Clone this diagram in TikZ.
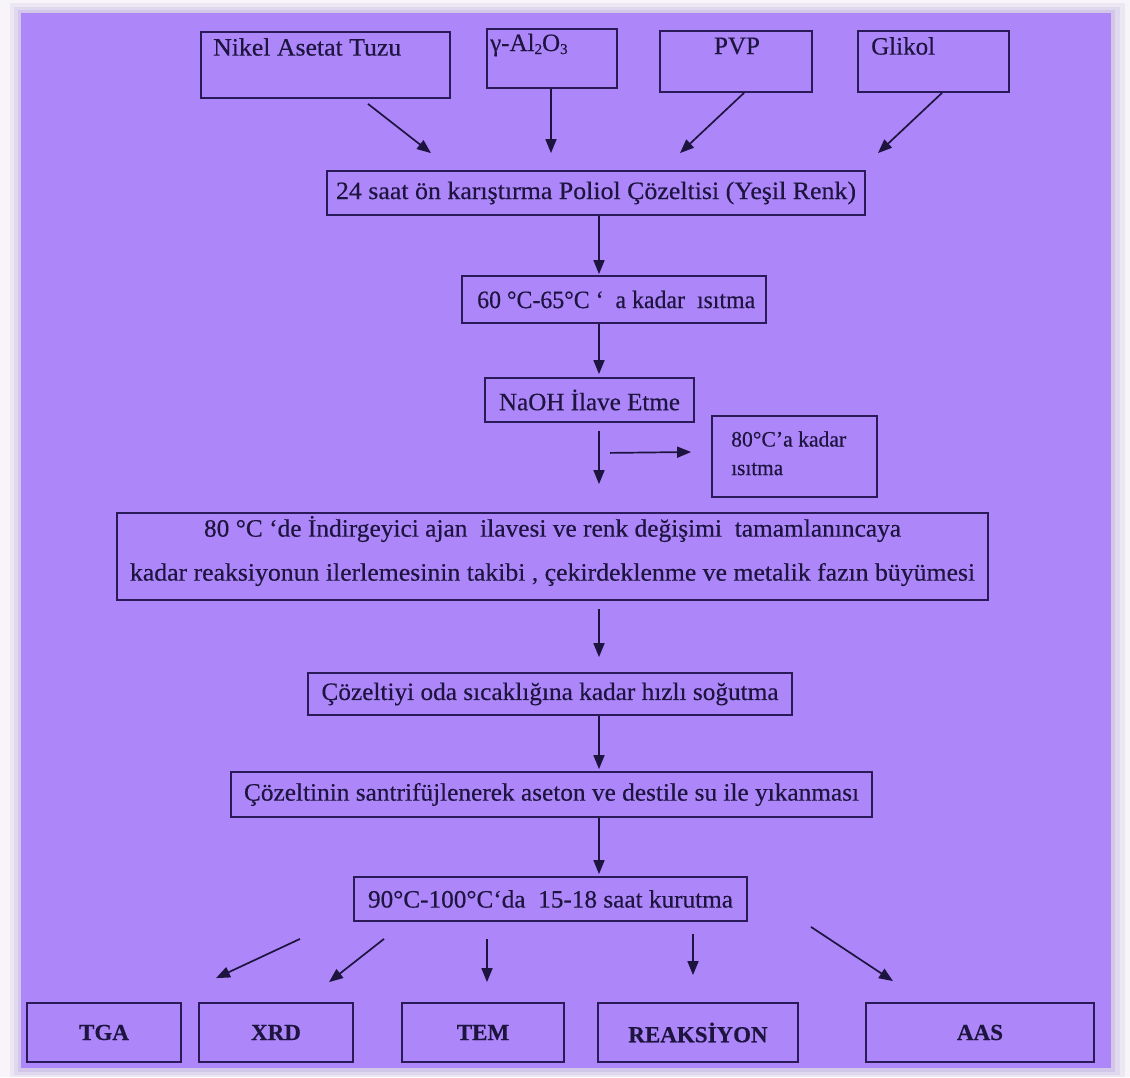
\documentclass[tikz,border=0pt]{standalone}
\usepackage{fontspec}
\setmainfont{Liberation Serif}[FakeBold=0.4]
\usetikzlibrary{arrows.meta}
\definecolor{panel}{HTML}{AD87FA}
\definecolor{edge}{HTML}{2A1A58}
\definecolor{ink}{HTML}{1E1440}
\definecolor{outer}{HTML}{F7F5F9}
\definecolor{shadeA}{HTML}{ECE7F3}
\definecolor{shadeB}{HTML}{E0D8EE}
\definecolor{shadeC}{HTML}{D3C7E9}
\newcommand\fitw[2]{\resizebox{#1pt}{\height}{#2}}
\newcommand\mysub[1]{\raisebox{-3pt}{\fontsize{15}{15}\selectfont #1}}
\begin{document}
\begin{tikzpicture}[x=1pt,y=-1pt,
  box/.style={draw=edge,line width=1.8pt,inner sep=0pt,text=ink,font=\fontsize{25}{30}\selectfont},
  bbox/.style={box,font=\fontsize{23}{28}\selectfont\bfseries},
  lab/.style={inner sep=0pt,text=ink,font=\fontsize{25}{30}\selectfont},
  arr/.style={draw=ink,line width=1.7pt,-{Triangle[length=14pt,width=11pt]}}]
\useasboundingbox (0,0) rectangle (1130,1077);
% background and panel
\fill[outer] (0,0) rectangle (1130,1077);
\fill[shadeA] (10,3) rectangle (1125,1077);
\fill[shadeB] (14,7) rectangle (1120,1075);
\fill[shadeC] (18,10) rectangle (1115,1072);
\fill[panel] (21,13) rectangle (1111,1068);

% top inputs
\node[box,minimum width=249pt,minimum height=66pt] (nikel) at (325.5,65) {};
\node[box,minimum width=130pt,minimum height=59pt] (gamma) at (552,58.5) {};
\node[box,minimum width=152pt,minimum height=61pt] (pvp) at (736,61.5) {};
\node[box,minimum width=151pt,minimum height=61pt] (glikol) at (933.5,61.5) {};
\node[lab,anchor=west] (tnikel) at (213,47) {\fitw{188}{Nikel Asetat Tuzu}};
\node[lab,anchor=west] (tgamma) at (490,45) {γ-Al\mysub{2}O\mysub{3}};
\node[lab] (tpvp) at (737,46) {PVP};
\node[lab,anchor=west] (tgly) at (871,46) {Glikol};

% main chain
\node[box,minimum width=538pt,minimum height=44pt] (mix) at (596,193)
  {\fitw{520}{24 saat ön karıştırma Poliol Çözeltisi (Yeşil Renk)}};
\node[box,minimum width=304pt,minimum height=47pt] (heat) at (614,299.5) {};
\node[lab,anchor=west] (theat) at (477,299.5) {\fitw{278}{60 °C-65°C ‘ \ a kadar \ ısıtma}};
\node[box,minimum width=209pt,minimum height=44pt] (naoh) at (589.5,400)
  {\fitw{181}{NaOH İlave Etme}};
\node[box,minimum width=165pt,minimum height=81pt] (side) at (794.5,456.5) {};
\node[lab,anchor=west,font=\fontsize{22}{26}\selectfont] (tside1) at (731,439) {\fitw{115}{80°C’a kadar}};
\node[lab,anchor=west,font=\fontsize{22}{26}\selectfont] (tside2) at (731,469) {\fitw{52}{ısıtma}};
\node[box,minimum width=871pt,minimum height=87pt] (big) at (552.5,556.5) {};
\node[lab,align=center,font=\fontsize{25}{44}\selectfont] (tbig) at (552.5,551)
  {\fitw{697}{80 °C ‘de İndirgeyici ajan \ ilavesi ve renk değişimi \ tamamlanıncaya}\\
   \fitw{845}{kadar reaksiyonun ilerlemesinin takibi , çekirdeklenme ve metalik fazın büyümesi}};
\node[box,minimum width=484pt,minimum height=42pt] (cool) at (550,694)
  {\fitw{457}{Çözeltiyi oda sıcaklığına kadar hızlı soğutma}};
\node[box,minimum width=641pt,minimum height=45pt] (wash) at (551.5,794.5)
  {\fitw{615}{Çözeltinin santrifüjlenerek aseton ve destile su ile yıkanması}};
\node[box,minimum width=393pt,minimum height=44pt] (dry) at (550.5,899)
  {\fitw{365}{90°C-100°C‘da \ 15-18 saat kurutma}};

% analyses
\node[bbox,minimum width=154pt,minimum height=59pt] (tga) at (104,1032.5) {TGA};
\node[bbox,minimum width=154pt,minimum height=59pt] (xrd) at (276,1032.5) {XRD};
\node[bbox,minimum width=162pt,minimum height=59pt] (tem) at (483,1032.5) {TEM};
\node[bbox,minimum width=200pt,minimum height=59pt] (reak) at (698,1032.5) {REAKSİYON};
\node[bbox,minimum width=228pt,minimum height=59pt] (aas) at (980,1032.5) {AAS};

% connectors
\draw[arr] ([shift={(42.5,5)}]nikel.south) -- ([shift={(-165,-17)}]mix.north);
\draw[arr] ([shift={(-1,0)}]gamma.south) -- ([shift={(-45,-17)}]mix.north);
\draw[arr] ([shift={(8,0)}]pvp.south) -- ([shift={(84,-17)}]mix.north);
\draw[arr] ([shift={(8.5,0)}]glikol.south) -- ([shift={(282,-17)}]mix.north);
\draw[arr] ([shift={(3,0)}]mix.south) -- ([shift={(-15,-1)}]heat.north);
\draw[arr] ([shift={(-15,0)}]heat.south) -- ([shift={(9.5,-3)}]naoh.north);
\draw[arr] ([shift={(9.5,8)}]naoh.south) -- ([shift={(46.5,-28)}]big.north);
\draw[arr] ([shift={(20.5,30)}]naoh.south) -- ([shift={(-20,-4.5)}]side.west);
\draw[arr] ([shift={(46.5,8)}]big.south) -- ([shift={(49,-15)}]cool.north);
\draw[arr] ([shift={(49,0)}]cool.south) -- ([shift={(47.5,-2)}]wash.north);
\draw[arr] ([shift={(47.5,0)}]wash.south) -- ([shift={(48.5,-2)}]dry.north);
\draw[arr] ([shift={(-250.5,17)}]dry.south) -- ([shift={(112,-24)}]tga.north);
\draw[arr] ([shift={(-166.5,17)}]dry.south) -- ([shift={(53,-20)}]xrd.north);
\draw[arr] ([shift={(-63.5,17)}]dry.south) -- ([shift={(4,-20)}]tem.north);
\draw[arr] ([shift={(142.5,12)}]dry.south) -- ([shift={(-5,-27)}]reak.north);
\draw[arr] ([shift={(260.5,5)}]dry.south) -- ([shift={(-87,-21)}]aas.north);
\end{tikzpicture}
\end{document}
